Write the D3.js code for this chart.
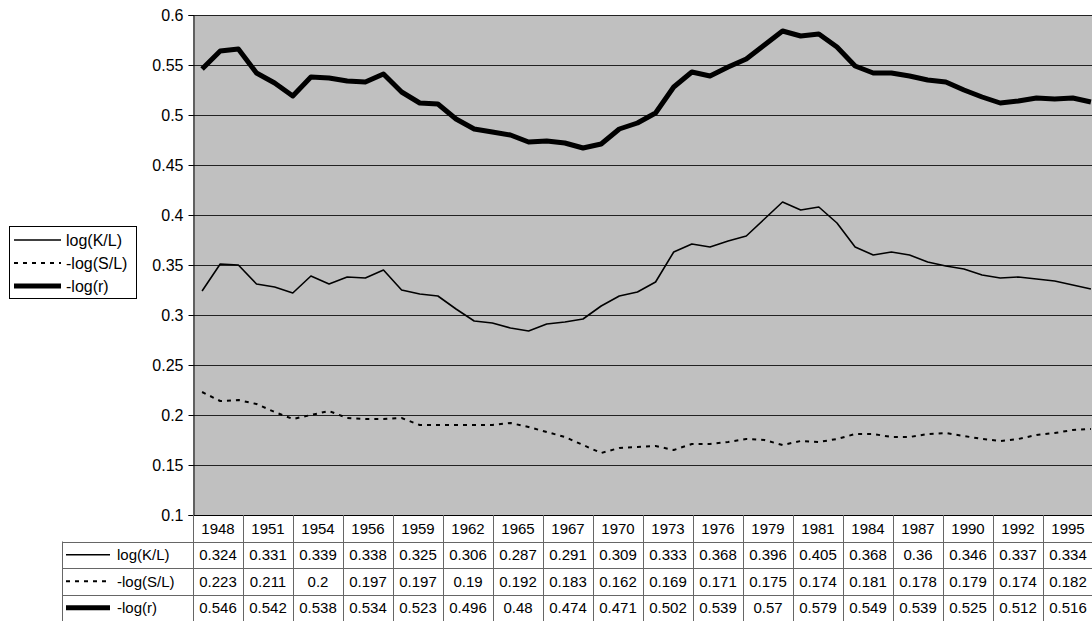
<!DOCTYPE html>
<html>
<head>
<meta charset="utf-8">
<script src="https://cdn.jsdelivr.net/npm/d3@7"></script>
<style>
  body { margin: 0; background: #fff; }
</style>
</head>
<body>
<svg id="chart" width="1092" height="621"></svg>
<script>
// annual data, 1948 - 1997
const years = [1948, 1949, 1950, 1951, 1952, 1953, 1954, 1955, 1956, 1957,
  1958, 1959, 1960, 1961, 1962, 1963, 1964, 1965, 1966, 1967,
  1968, 1969, 1970, 1971, 1972, 1973, 1974, 1975, 1976, 1977,
  1978, 1979, 1980, 1981, 1982, 1983, 1984, 1985, 1986, 1987,
  1988, 1989, 1990, 1991, 1992, 1993, 1994, 1995, 1996, 1997];

const logKL = [0.324, 0.351, 0.350, 0.331, 0.328, 0.322, 0.339, 0.331, 0.338, 0.337,
  0.345, 0.325, 0.321, 0.319, 0.306, 0.294, 0.292, 0.287, 0.284, 0.291,
  0.293, 0.296, 0.309, 0.319, 0.323, 0.333, 0.363, 0.371, 0.368, 0.374,
  0.379, 0.396, 0.413, 0.405, 0.408, 0.392, 0.368, 0.360, 0.363, 0.360,
  0.353, 0.349, 0.346, 0.340, 0.337, 0.338, 0.336, 0.334, 0.330, 0.326];

const logSL = [0.223, 0.214, 0.215, 0.211, 0.203, 0.196, 0.200, 0.204, 0.197, 0.196,
  0.196, 0.197, 0.190, 0.190, 0.190, 0.190, 0.190, 0.192, 0.188, 0.183,
  0.178, 0.170, 0.162, 0.167, 0.168, 0.169, 0.165, 0.171, 0.171, 0.173,
  0.176, 0.175, 0.170, 0.174, 0.173, 0.176, 0.181, 0.181, 0.178, 0.178,
  0.181, 0.182, 0.179, 0.176, 0.174, 0.176, 0.180, 0.182, 0.185, 0.186];

const logR = [0.546, 0.564, 0.566, 0.542, 0.532, 0.519, 0.538, 0.537, 0.534, 0.533,
  0.541, 0.523, 0.512, 0.511, 0.496, 0.486, 0.483, 0.480, 0.473, 0.474,
  0.472, 0.467, 0.471, 0.486, 0.492, 0.502, 0.528, 0.543, 0.539, 0.548,
  0.556, 0.570, 0.584, 0.579, 0.581, 0.568, 0.549, 0.542, 0.542, 0.539,
  0.535, 0.533, 0.525, 0.518, 0.512, 0.514, 0.517, 0.516, 0.517, 0.513];

// years shown in the data table
const tableYears = [1948, 1951, 1954, 1956, 1959, 1962, 1965, 1967, 1970,
  1973, 1976, 1979, 1981, 1984, 1987, 1990, 1992, 1995];

const yTicks = [0.1, 0.15, 0.2, 0.25, 0.3, 0.35, 0.4, 0.45, 0.5, 0.55, 0.6];

const series = [
  { name: "log(K/L)", values: logKL, width: 1.6, dash: null },
  { name: "-log(S/L)", values: logSL, width: 2, dash: "4,5" },
  { name: "-log(r)", values: logR, width: 5, dash: null }
];

const FONT = "Arial, 'Liberation Sans', sans-serif";

const svg = d3.select("#chart");

const plotLeft = 193, plotRight = 1100, plotTop = 15, plotBottom = 515;

const x = d3.scalePoint().domain(years).range([plotLeft, plotRight]).padding(0.5);
const y = d3.scaleLinear().domain([0.1, 0.6]).range([plotBottom, plotTop]);

// plot area
svg.append("rect")
  .attr("x", plotLeft).attr("y", plotTop)
  .attr("width", plotRight - plotLeft).attr("height", plotBottom - plotTop)
  .attr("fill", "#c0c0c0");

svg.append("g").selectAll("line")
  .data(yTicks)
  .join("line")
  .attr("x1", plotLeft).attr("x2", plotRight)
  .attr("y1", d => Math.round(y(d)) + 0.5).attr("y2", d => Math.round(y(d)) + 0.5)
  .attr("stroke", "#222").attr("stroke-width", 1);

// y axis
const yAxis = d3.axisLeft(y).tickValues(yTicks).tickSize(5).tickPadding(5)
  .tickFormat(d => String(+d.toFixed(2)));
const gy = svg.append("g")
  .attr("transform", `translate(${plotLeft + 0.5},0)`)
  .call(yAxis)
  .attr("font-size", 16)
  .attr("font-family", FONT);
gy.select(".domain").attr("stroke", "#000");
gy.selectAll(".tick line").attr("stroke", "#000");

// lines
const line = d3.line().x((d, i) => x(years[i])).y(d => y(d));
series.forEach(s => {
  svg.append("path")
    .attr("d", line(s.values))
    .attr("fill", "none")
    .attr("stroke", "#000")
    .attr("stroke-width", s.width)
    .attr("stroke-linejoin", "round")
    .attr("stroke-dasharray", s.dash);
});

// data table
const col = d3.scaleBand().domain(tableYears).range([plotLeft, plotLeft + 50 * tableYears.length]);
const rowH = 26.5;
const tableLeft = 62;
const tg = svg.append("g").attr("font-size", 15).attr("font-family", FONT);
const gridColor = "#666";

// horizontal rules
for (let r = 0; r <= 4; r++) {
  const yy = Math.round(plotBottom + r * rowH) + 0.5;
  tg.append("line")
    .attr("x1", r === 0 ? plotLeft : tableLeft).attr("x2", plotRight)
    .attr("y1", yy).attr("y2", yy)
    .attr("stroke", r === 0 ? "#000" : gridColor);
}
// vertical rules
tg.selectAll(".vcol")
  .data(tableYears)
  .join("line")
  .attr("x1", d => Math.round(col(d)) + 0.5).attr("x2", d => Math.round(col(d)) + 0.5)
  .attr("y1", plotBottom).attr("y2", plotBottom + 4 * rowH)
  .attr("stroke", gridColor);
tg.append("line")
  .attr("x1", tableLeft + 0.5).attr("x2", tableLeft + 0.5)
  .attr("y1", plotBottom + rowH).attr("y2", plotBottom + 4 * rowH)
  .attr("stroke", gridColor);

// year header
tg.selectAll(".yr")
  .data(tableYears)
  .join("text")
  .attr("x", d => col(d) + col.bandwidth() / 2)
  .attr("y", plotBottom + rowH / 2)
  .attr("dy", "0.35em")
  .attr("text-anchor", "middle")
  .text(d => d);

// series rows
series.forEach((s, r) => {
  const cy = plotBottom + (r + 1.5) * rowH;
  tg.append("line")
    .attr("x1", 66).attr("x2", 110)
    .attr("y1", cy).attr("y2", cy)
    .attr("stroke", "#000")
    .attr("stroke-width", s.width)
    .attr("stroke-dasharray", s.dash);
  tg.append("text")
    .attr("x", 117).attr("y", cy).attr("dy", "0.35em")
    .text(s.name);
  tg.selectAll(null)
    .data(tableYears)
    .join("text")
    .attr("x", d => col(d) + col.bandwidth() / 2)
    .attr("y", cy).attr("dy", "0.35em")
    .attr("text-anchor", "middle")
    .text(d => String(s.values[years.indexOf(d)]));
});

// legend
const lg = svg.append("g").attr("font-size", 16).attr("font-family", FONT);
lg.append("rect")
  .attr("x", 9.5).attr("y", 226.5).attr("width", 127).attr("height", 72)
  .attr("fill", "#fff").attr("stroke", "#000");
series.forEach((s, r) => {
  const ly = 240 + r * 23;
  lg.append("line")
    .attr("x1", 14).attr("x2", 61)
    .attr("y1", ly).attr("y2", ly)
    .attr("stroke", "#000")
    .attr("stroke-width", s.width)
    .attr("stroke-dasharray", s.dash);
  lg.append("text")
    .attr("x", 66).attr("y", ly).attr("dy", "0.35em")
    .text(s.name);
});
</script>
</body>
</html>
